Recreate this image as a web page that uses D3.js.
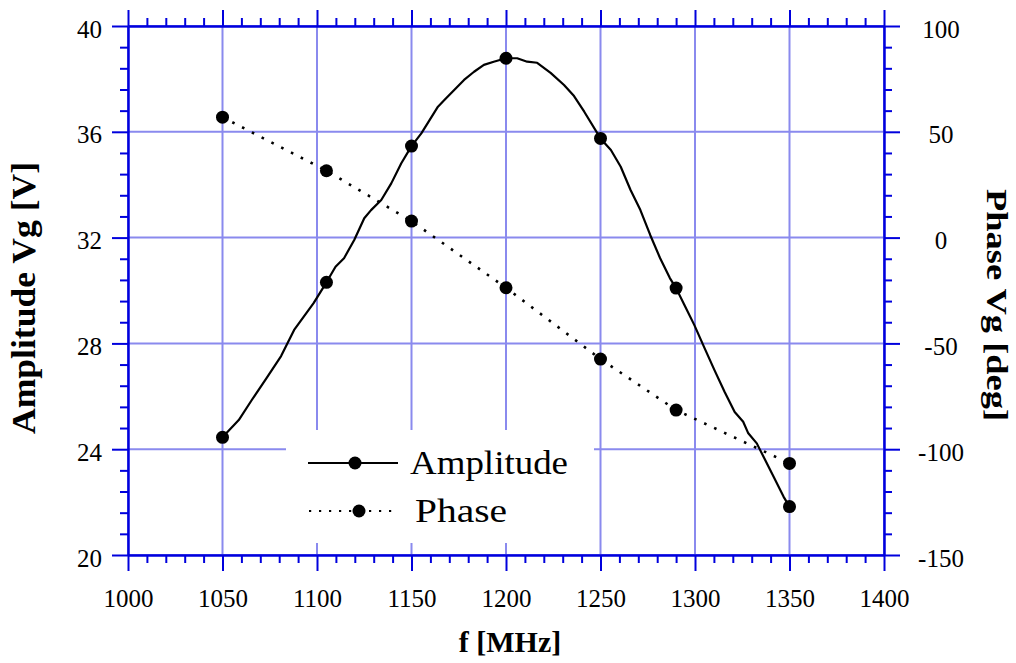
<!DOCTYPE html>
<html>
<head>
<meta charset="utf-8">
<script src="https://cdn.jsdelivr.net/npm/d3@7"></script>
<style>
  html, body { margin: 0; padding: 0; background: #fff; }
  svg { display: block; }
</style>
</head>
<body>
<svg id="chart" width="1016" height="663"></svg>
<script>
// ---------- DATA ----------
const freqTicks = [1000, 1050, 1100, 1150, 1200, 1250, 1300, 1350, 1400];
const ampTicks = [20, 24, 28, 32, 36, 40];
const phaseTicks = [-150, -100, -50, 0, 50, 100];

const markerFreq = [1050, 1105, 1150, 1200, 1250, 1290, 1350];
const ampMarkers = [24.45, 30.31, 35.46, 38.78, 35.75, 30.09, 21.83];
const phaseMarkers = [56.9, 31.6, 7.8, -23.7, -57.4, -81.5, -106.7];

const ampCurveFreq = [1050, 1058.6, 1065.5, 1073.3, 1081.0, 1087.9, 1098.2, 1105, 1109.8, 1114.3, 1119.7, 1125.0, 1128.6, 1134.0, 1139.3, 1144.6, 1150, 1155.2, 1164.0, 1167.4, 1177.8, 1183.1, 1188.3, 1193.5, 1200, 1205.9, 1211.2, 1216.5, 1223.6, 1230.7, 1236.0, 1241.4, 1250, 1255.5, 1260.7, 1265.9, 1271.1, 1276.3, 1281.5, 1286.7, 1290, 1294.4, 1299.6, 1305.0, 1310.3, 1315.7, 1321.0, 1325.5, 1328.2, 1332.7, 1336.2, 1341.6, 1346.9, 1350];
const ampCurveVal = [24.45, 25.10, 25.86, 26.69, 27.52, 28.51, 29.52, 30.31, 30.90, 31.22, 31.91, 32.73, 33.04, 33.42, 34.05, 34.81, 35.46, 35.94, 36.95, 37.20, 37.96, 38.27, 38.53, 38.65, 38.78, 38.78, 38.65, 38.61, 38.23, 37.77, 37.35, 36.76, 35.75, 35.31, 34.68, 33.80, 33.04, 32.10, 31.23, 30.47, 30.09, 29.45, 28.70, 27.83, 26.99, 26.16, 25.41, 25.04, 24.60, 24.22, 23.72, 22.96, 22.20, 21.83];

const legendLabels = ["Amplitude", "Phase"];
const xTitle = "f [MHz]";
const yLeftTitle = "Amplitude Vg [V]";
const yRightTitle = "Phase Vg [deg]";

// ---------- LAYOUT / STYLE ----------
const L = 128, R = 884, T = 26, B = 555;
const axisColor = "#0000dd";
const gridColor = "#8a8aee";
const serif = "'Liberation Serif', 'Times New Roman', serif";

const svg = d3.select("#chart");
svg.append("rect").attr("width", 1016).attr("height", 663).attr("fill", "#fff");

const x = d3.scaleLinear().domain([1000, 1400]).range([L, R]);
const yA = d3.scaleLinear().domain([20, 40]).range([B, T]);
const yP = d3.scaleLinear().domain([-150, 100]).range([B, T]);

const minorX = d3.range(1000, 1401, 10).filter(v => v % 50 !== 0);
const minorA = d3.range(0, 26).map(i => 20 + i * 0.8).filter((v, i) => i % 5 !== 0);
const minorP = d3.range(-150, 101, 10).filter(v => v % 50 !== 0);
const plainFmt = d => String(d);

// ---------- GRID ----------
const grid = svg.append("g").attr("stroke", gridColor).attr("stroke-width", 2);
grid.selectAll("line.v").data(freqTicks).join("line")
  .attr("x1", d => x(d)).attr("x2", d => x(d)).attr("y1", T).attr("y2", B);
grid.selectAll("line.h").data(ampTicks).join("line")
  .attr("x1", L).attr("x2", R).attr("y1", d => yA(d)).attr("y2", d => yA(d));

// legend background box (covers grid)
svg.append("rect").attr("x", 286).attr("y", 430).attr("width", 308).attr("height", 113).attr("fill", "#fff");

// ---------- AXES ----------
function styleAxis(g) {
  g.selectAll("path.domain").attr("stroke", axisColor).attr("stroke-width", 2);
  g.selectAll(".tick line").attr("stroke", axisColor).attr("stroke-width", 2);
  g.selectAll("text").attr("fill", "#000").style("font-family", serif).style("font-size", "25px");
}
// bottom
svg.append("g").attr("transform", `translate(0,${B})`)
  .call(d3.axisBottom(x).tickValues(minorX).tickSize(8).tickSizeOuter(0).tickFormat(""))
  .call(styleAxis);
const gb = svg.append("g").attr("transform", `translate(0,${B})`)
  .call(d3.axisBottom(x).tickValues(freqTicks).tickSize(16).tickSizeOuter(0).tickFormat(plainFmt))
  .call(styleAxis);
gb.selectAll("text").attr("y", 52).attr("dy", 0);
// top
svg.append("g").attr("transform", `translate(0,${T})`)
  .call(d3.axisTop(x).tickValues(minorX).tickSize(8).tickSizeOuter(0).tickFormat(""))
  .call(styleAxis);
svg.append("g").attr("transform", `translate(0,${T})`)
  .call(d3.axisTop(x).tickValues(freqTicks).tickSize(16).tickSizeOuter(0).tickFormat(""))
  .call(styleAxis);
// left
svg.append("g").attr("transform", `translate(${L},0)`)
  .call(d3.axisLeft(yA).tickValues(minorA).tickSize(8).tickSizeOuter(0).tickFormat(""))
  .call(styleAxis);
const gl = svg.append("g").attr("transform", `translate(${L},0)`)
  .call(d3.axisLeft(yA).tickValues(ampTicks).tickSize(16).tickSizeOuter(0).tickFormat(plainFmt))
  .call(styleAxis);
gl.selectAll("text").attr("x", -26).attr("dy", 0).attr("y", 11);
// right
svg.append("g").attr("transform", `translate(${R},0)`)
  .call(d3.axisRight(yP).tickValues(minorP).tickSize(8).tickSizeOuter(0).tickFormat(""))
  .call(styleAxis);
const gr = svg.append("g").attr("transform", `translate(${R},0)`)
  .call(d3.axisRight(yP).tickValues(phaseTicks).tickSize(16).tickSizeOuter(0).tickFormat(plainFmt))
  .call(styleAxis);
gr.selectAll("text").attr("x", 57).attr("dy", 0).attr("y", 11).attr("text-anchor", "middle");

// ---------- SERIES ----------
const ampPts = ampCurveFreq.map((f, i) => [f, ampCurveVal[i]]);
svg.append("path").datum(ampPts)
  .attr("fill", "none").attr("stroke", "#000").attr("stroke-width", 2.2).attr("stroke-linejoin", "round")
  .attr("d", d3.line().x(d => x(d[0])).y(d => yA(d[1])));

const phPts = markerFreq.map((f, i) => [f, phaseMarkers[i]]);
svg.append("path").datum(phPts)
  .attr("fill", "none").attr("stroke", "#000").attr("stroke-width", 2.6)
  .attr("stroke-dasharray", "2.6,8.4")
  .attr("d", d3.line().x(d => x(d[0])).y(d => yP(d[1])));

svg.append("g").selectAll("circle").data(markerFreq).join("circle")
  .attr("cx", d => x(d)).attr("cy", (d, i) => yA(ampMarkers[i])).attr("r", 6.5).attr("fill", "#000");
svg.append("g").selectAll("circle").data(markerFreq).join("circle")
  .attr("cx", d => x(d)).attr("cy", (d, i) => yP(phaseMarkers[i])).attr("r", 6.5).attr("fill", "#000");

// ---------- LEGEND ----------
const lg = svg.append("g");
lg.append("line").attr("x1", 308).attr("x2", 398).attr("y1", 463).attr("y2", 463)
  .attr("stroke", "#000").attr("stroke-width", 2.2);
lg.append("circle").attr("cx", 355).attr("cy", 463).attr("r", 6.5).attr("fill", "#000");
lg.append("line").attr("x1", 309).attr("x2", 398).attr("y1", 511).attr("y2", 511)
  .attr("stroke", "#000").attr("stroke-width", 2.2).attr("stroke-dasharray", "2.2,7.8");
lg.append("circle").attr("cx", 359).attr("cy", 511).attr("r", 6.5).attr("fill", "#000");
lg.append("text").attr("x", 410).attr("y", 474).text(legendLabels[0])
  .style("font-family", serif).style("font-size", "34px")
  .attr("textLength", 158).attr("lengthAdjust", "spacingAndGlyphs");
lg.append("text").attr("x", 415).attr("y", 521.5).text(legendLabels[1])
  .style("font-family", serif).style("font-size", "34px")
  .attr("textLength", 92).attr("lengthAdjust", "spacingAndGlyphs");

// ---------- TITLES ----------
svg.append("text").attr("x", 510).attr("y", 652).attr("text-anchor", "middle")
  .style("font-family", serif).style("font-size", "30px").style("font-weight", "bold").text(xTitle);
svg.append("text").attr("transform", "translate(35,298) rotate(-90)").attr("text-anchor", "middle")
  .style("font-family", serif).style("font-size", "34px").style("font-weight", "bold").text(yLeftTitle)
  .attr("textLength", 272).attr("lengthAdjust", "spacingAndGlyphs");
svg.append("text").attr("transform", "translate(987,305) rotate(90)").attr("text-anchor", "middle")
  .style("font-family", serif).style("font-size", "30px").style("font-weight", "bold").text(yRightTitle)
  .attr("textLength", 232).attr("lengthAdjust", "spacingAndGlyphs");
</script>
</body>
</html>
